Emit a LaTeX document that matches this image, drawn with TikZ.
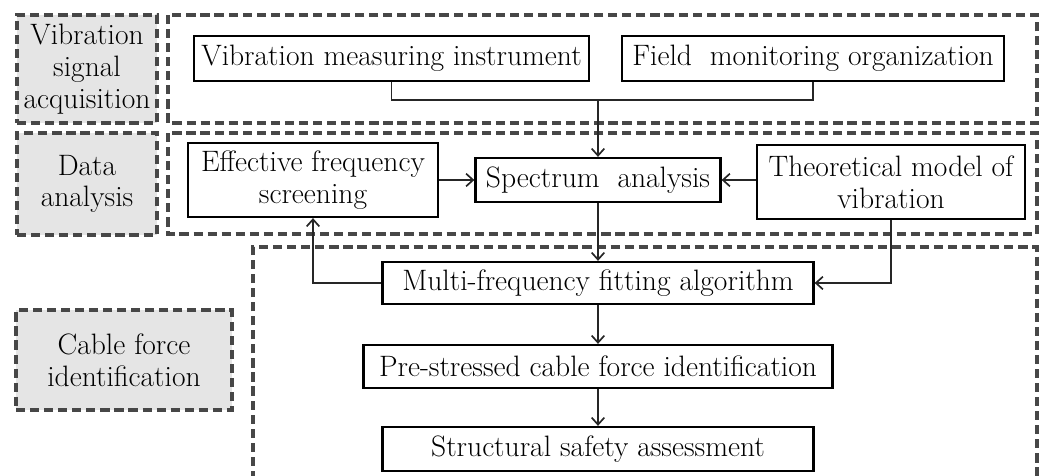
\documentclass[tikz,border=0pt]{standalone}
\usepackage{tikz}
\usetikzlibrary{arrows.meta}

\begin{document}
\begin{tikzpicture}[x=0.025cm,y=-0.025cm,
  font=\fontsize{21}{22.5}\selectfont,
  box/.style 2 args={draw=black,line width=1.6pt,fill=white,inner sep=0pt,
    align=center,minimum width=#1*0.025cm,minimum height=#2*0.025cm},
  stage/.style 2 args={draw=black!72,line width=2.6pt,dash pattern=on 6.5pt off 3.5pt,
    fill=black!10,inner sep=0pt,align=center,
    minimum width=#1*0.025cm,minimum height=#2*0.025cm},
  frame/.style={draw=black!72,line width=2.6pt,dash pattern=on 6.5pt off 3.5pt},
  link/.style={draw=black!85,line width=1.2pt},
  arr/.style={link,-{Straight Barb[length=5pt,width=9pt]}}]
  \useasboundingbox (0,0) rectangle (1042,475);

  % group frames
  \draw[frame] (168,15) rectangle (1037,123);
  \draw[frame] (168,133) rectangle (1037,234);
  \draw[frame] (253,480) |- (1037,247) -- (1037,480);

  % stage labels
  \node[stage={140}{108}] (acq) at (87,69) {Vibration\\signal\\acquisition};
  \node[stage={140}{102}] (ana) at (87,184) {Data\\analysis};
  \node[stage={216}{100}] (ide) at (124,360) {Cable force\\identification};

  % process boxes
  \node[box={395}{45}] (vmi) at (391.5,58.5) {Vibration measuring instrument};
  \node[box={382}{45}] (fmo) at (813,58.5) {Field\ \ monitoring organization};
  \node[box={250}{74}] (efs) at (313,180) {Effective frequency\\screening};
  \node[box={245}{44}] (spa) at (598,180) {Spectrum\ \ analysis};
  \node[box={268}{74}] (tmv) at (891,182) {Theoretical model of\\vibration};
  \node[box={431}{42}] (mfa) at (598,283) {Multi-frequency fitting algorithm};
  \node[box={469}{43}] (pcf) at (598,366.5) {Pre-stressed cable force identification};
  \node[box={431}{44}] (ssa) at (598,449) {Structural safety assessment};

  \coordinate (join) at (spa.north |- 0,100);

  % connectors
  \draw[link] (vmi.south) |- (join) -| (fmo.south);
  \draw[arr] (join) -- (spa.north);
  \draw[arr] (efs.east) -- (spa.west);
  \draw[arr] (tmv.west |- spa.west) -- (spa.east);
  \draw[arr] (spa.south) -- (mfa.north);
  \draw[arr] (mfa.west) -| (efs.south);
  \draw[arr] (tmv.south) |- (mfa.east);
  \draw[arr] (mfa.south) -- (pcf.north);
  \draw[arr] (pcf.south) -- (ssa.north);
\end{tikzpicture}
\end{document}
